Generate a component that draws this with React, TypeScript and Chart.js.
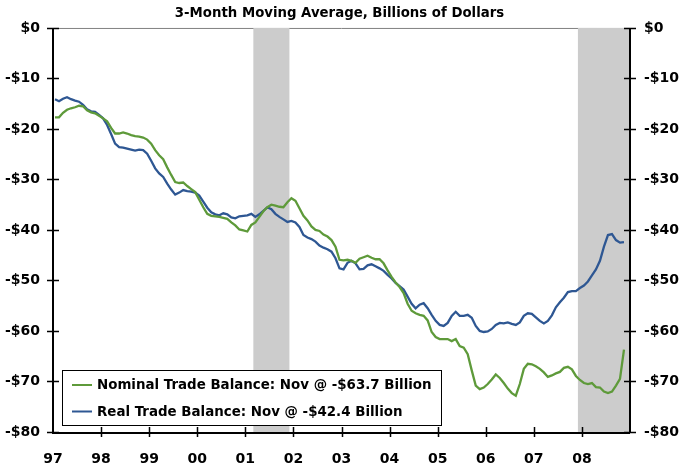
import { useEffect, useRef } from "react";
import { Chart, registerables } from "chart.js";

Chart.register(...registerables);

const TITLE = "3-Month Moving Average, Billions of Dollars";
const YEAR_LABELS = ["97", "98", "99", "00", "01", "02", "03", "04", "05", "06", "07", "08"];
const Y_TICKS = [0, -10, -20, -30, -40, -50, -60, -70, -80];
const NOMINAL_LABEL = "Nominal Trade Balance: Nov @ -$63.7 Billion";
const REAL_LABEL = "Real Trade Balance: Nov @ -$42.4 Billion";
const NOMINAL_COLOR = "#5e9a3a";
const REAL_COLOR = "#2e5793";

// Recessions, in months since Jan 1997: Mar 2001 – Nov 2001, Dec 2007 – end
const RECESSION_START = [50, 131];
const RECESSION_END = [59, 144];

// Monthly values, Jan 1997 .. Nov 2008
const nominal = [
  -17.7, -17.7, -16.8, -16.2, -15.9, -15.7, -15.4, -15.5, -16.3, -16.7, -16.9, -17.4,
  -17.9, -18.5, -19.8, -20.9, -20.9, -20.7, -20.9, -21.2, -21.4, -21.5, -21.7, -22.1,
  -22.9, -24.2, -25.2, -26.0, -27.6, -29.1, -30.5, -30.7, -30.6, -31.3, -31.9, -32.5,
  -34.0, -35.5, -36.8, -37.2, -37.3, -37.4, -37.6, -37.8, -38.5, -39.1, -39.9, -40.1,
  -40.3, -39.0, -38.5, -37.4, -36.3, -35.5, -35.0, -35.2, -35.4, -35.5, -34.5, -33.7,
  -34.2, -35.7, -37.2, -38.1, -39.3, -40.0, -40.2, -40.9, -41.3, -42.0, -43.3, -45.9,
  -46.0, -45.9, -46.1, -46.5, -45.7, -45.4, -45.1, -45.5, -45.8, -45.8, -46.6, -48.0,
  -49.3, -50.4, -51.3, -52.5, -54.6, -56.0, -56.5, -56.8, -57.0, -57.9, -60.2, -61.2,
  -61.6, -61.6, -61.6, -62.0, -61.6, -63.0, -63.3, -64.6, -67.8, -70.8, -71.5, -71.2,
  -70.5, -69.6, -68.6, -69.3, -70.3, -71.4, -72.3, -72.8, -70.5, -67.5, -66.5, -66.6,
  -67.0, -67.5, -68.2, -69.1, -68.8, -68.4, -68.1, -67.3, -67.1, -67.6, -68.9, -69.7,
  -70.3, -70.5, -70.3, -71.1, -71.2, -72.0, -72.3, -72.0, -70.8, -69.5, -63.7,
];

const real = [
  -14.1, -14.5, -14.0, -13.7, -14.1, -14.4, -14.6, -15.2, -16.1, -16.5, -16.6, -17.2,
  -17.9, -19.2, -21.0, -22.9, -23.6, -23.7, -23.9, -24.1, -24.3, -24.1, -24.2, -24.9,
  -26.3, -27.8, -28.8, -29.5, -30.8, -32.0, -33.0, -32.6, -32.1, -32.3, -32.4, -32.6,
  -33.2, -34.4, -35.6, -36.5, -36.9, -37.1, -36.7, -36.9, -37.5, -37.7, -37.3, -37.2,
  -37.1, -36.8, -37.4, -36.9, -36.2, -35.5, -35.9, -36.8, -37.4, -37.9, -38.4, -38.2,
  -38.5, -39.4, -41.0, -41.5, -41.8, -42.3, -43.1, -43.5, -43.8, -44.3, -45.6, -47.6,
  -47.8, -46.5, -46.1, -46.6, -47.8, -47.7, -47.0, -46.8, -47.2, -47.6, -48.1, -48.9,
  -49.6, -50.5, -51.1, -51.8, -53.2, -54.6, -55.5, -54.8, -54.5, -55.5, -56.8, -58.0,
  -58.8, -59.0, -58.4, -57.0, -56.2, -57.0, -57.0, -56.8, -57.4, -59.0, -60.0, -60.2,
  -60.1, -59.6, -58.8, -58.4, -58.5, -58.3, -58.6, -58.8, -58.3, -57.0, -56.5, -56.6,
  -57.3, -58.0, -58.5, -58.0, -56.9, -55.3, -54.3, -53.4, -52.3, -52.1, -52.1, -51.5,
  -51.0, -50.2, -49.0, -47.8, -46.1, -43.3, -41.0, -40.8, -42.0, -42.5, -42.4,
];

const FONT = "'DejaVu Sans', sans-serif";

const framePlugin = {
  id: "frame",
  beforeDatasetsDraw(chart: any) {
    const { ctx, chartArea: a, scales } = chart;
    const xs = scales.x;
    ctx.save();
    ctx.strokeStyle = "#808080";
    ctx.lineWidth = 1;
    ctx.beginPath();
    ctx.moveTo(a.left, a.top + 0.5);
    ctx.lineTo(a.right, a.top + 0.5);
    ctx.stroke();
    ctx.fillStyle = "#cccccc";
    for (let i = 0; i < RECESSION_START.length; i++) {
      const x0 = xs.getPixelForValue(RECESSION_START[i]);
      const x1 = xs.getPixelForValue(RECESSION_END[i]);
      ctx.fillRect(x0, a.top, x1 - x0, a.bottom - a.top);
    }
    ctx.restore();
  },
  afterDatasetsDraw(chart: any) {
    const { ctx, chartArea: a, scales } = chart;
    const xs = scales.x;
    const ys = scales.y;
    ctx.save();
    ctx.strokeStyle = "#000";
    ctx.lineWidth = 2;
    ctx.beginPath();
    ctx.moveTo(a.left, a.top);
    ctx.lineTo(a.left, a.bottom + 1);
    ctx.lineTo(a.right, a.bottom + 1);
    ctx.moveTo(a.right, a.top);
    ctx.lineTo(a.right, a.bottom + 1);
    ctx.stroke();
    ctx.lineWidth = 1.5;
    ctx.beginPath();
    for (const v of Y_TICKS) {
      const y = Math.round(ys.getPixelForValue(v)) + 0.5;
      ctx.moveTo(a.left - 6, y);
      ctx.lineTo(a.left + 6, y);
      ctx.moveTo(a.right - 6, y);
      ctx.lineTo(a.right + 6, y);
    }
    for (let i = 1; i < YEAR_LABELS.length; i++) {
      const x = Math.round(xs.getPixelForValue(i * 12)) + 0.5;
      ctx.moveTo(x, a.bottom - 5);
      ctx.lineTo(x, a.bottom + 5);
    }
    ctx.stroke();
    ctx.restore();
  },
  afterDraw(chart: any) {
    const { ctx, chartArea: a } = chart;
    const bx = a.left + 9;
    const by = a.bottom - 62;
    const bw = 379;
    const bh = 55;
    ctx.save();
    ctx.fillStyle = "#fff";
    ctx.fillRect(bx, by, bw, bh);
    ctx.strokeStyle = "#000";
    ctx.lineWidth = 1;
    ctx.strokeRect(bx + 0.5, by + 0.5, bw, bh);
    ctx.font = `bold 13.4px ${FONT}`;
    ctx.textBaseline = "middle";
    ctx.textAlign = "left";
    const rows = [15, 41.5];
    chart.data.datasets.forEach((ds: any, i: number) => {
      const y = by + rows[i];
      ctx.strokeStyle = ds.borderColor;
      ctx.lineWidth = 2;
      ctx.beginPath();
      ctx.moveTo(bx + 10, y);
      ctx.lineTo(bx + 30, y);
      ctx.stroke();
      ctx.fillStyle = "#000";
      ctx.fillText(ds.label, bx + 35, y + 1);
    });
    ctx.restore();
  },
};

const yTickCallback = (v: any) => (v === 0 ? "$0" : "-$" + Math.abs(v));

export default function App() {
  const ref = useRef<HTMLCanvasElement | null>(null);
  useEffect(() => {
    if (!ref.current) return;
    const chart = new Chart(ref.current, {
      type: "line",
      data: {
        datasets: [
          {
            label: NOMINAL_LABEL,
            data: nominal.map((v, i) => ({ x: i + 0.5, y: v })),
            borderColor: NOMINAL_COLOR,
            borderWidth: 2.3,
            pointRadius: 0,
            tension: 0,
            fill: false,
          },
          {
            label: REAL_LABEL,
            data: real.map((v, i) => ({ x: i + 0.5, y: v })),
            borderColor: REAL_COLOR,
            borderWidth: 2.3,
            pointRadius: 0,
            tension: 0,
            fill: false,
          },
        ],
      },
      options: {
        responsive: false,
        animation: false,
        devicePixelRatio: 1,
        layout: { padding: 0 },
        plugins: {
          legend: { display: false },
          tooltip: { enabled: false },
          title: {
            display: true,
            text: TITLE,
            color: "#000",
            font: { family: FONT, size: 13.3, weight: "bold", lineHeight: 1.2 },
            padding: { top: 6, bottom: 6 },
          },
        },
        scales: {
          x: {
            type: "linear",
            min: 0,
            max: 144,
            grid: { display: false, drawTicks: false },
            border: { display: false },
            afterFit: (s: any) => {
              s.height = 33;
            },
            ticks: {
              stepSize: 12,
              autoSkip: false,
              maxRotation: 0,
              padding: 19,
              color: "#000",
              font: { family: FONT, size: 14, weight: "bold" },
              callback: (v: any) => (v < 144 ? YEAR_LABELS[Math.round(v / 12)] : ""),
            },
          },
          y: {
            position: "left",
            min: -80,
            max: 0,
            grid: { display: false, drawTicks: false },
            border: { display: false },
            afterFit: (s: any) => {
              s.width = 53;
            },
            ticks: {
              stepSize: 10,
              padding: 13,
              color: "#000",
              font: { family: FONT, size: 14, weight: "bold" },
              callback: yTickCallback,
            },
          },
          y2: {
            position: "right",
            min: -80,
            max: 0,
            grid: { display: false, drawTicks: false },
            border: { display: false },
            afterFit: (s: any) => {
              s.width = 49;
            },
            ticks: {
              stepSize: 10,
              padding: 14,
              color: "#000",
              font: { family: FONT, size: 14, weight: "bold" },
              callback: yTickCallback,
            },
          },
        },
      },
      plugins: [framePlugin],
    } as any);
    return () => chart.destroy();
  }, []);
  return (
    <div style={{ position: "absolute", left: 0, top: 0, width: 679, height: 465, background: "#fff" }}>
      <canvas ref={ref} width={679} height={465} />
    </div>
  );
}
